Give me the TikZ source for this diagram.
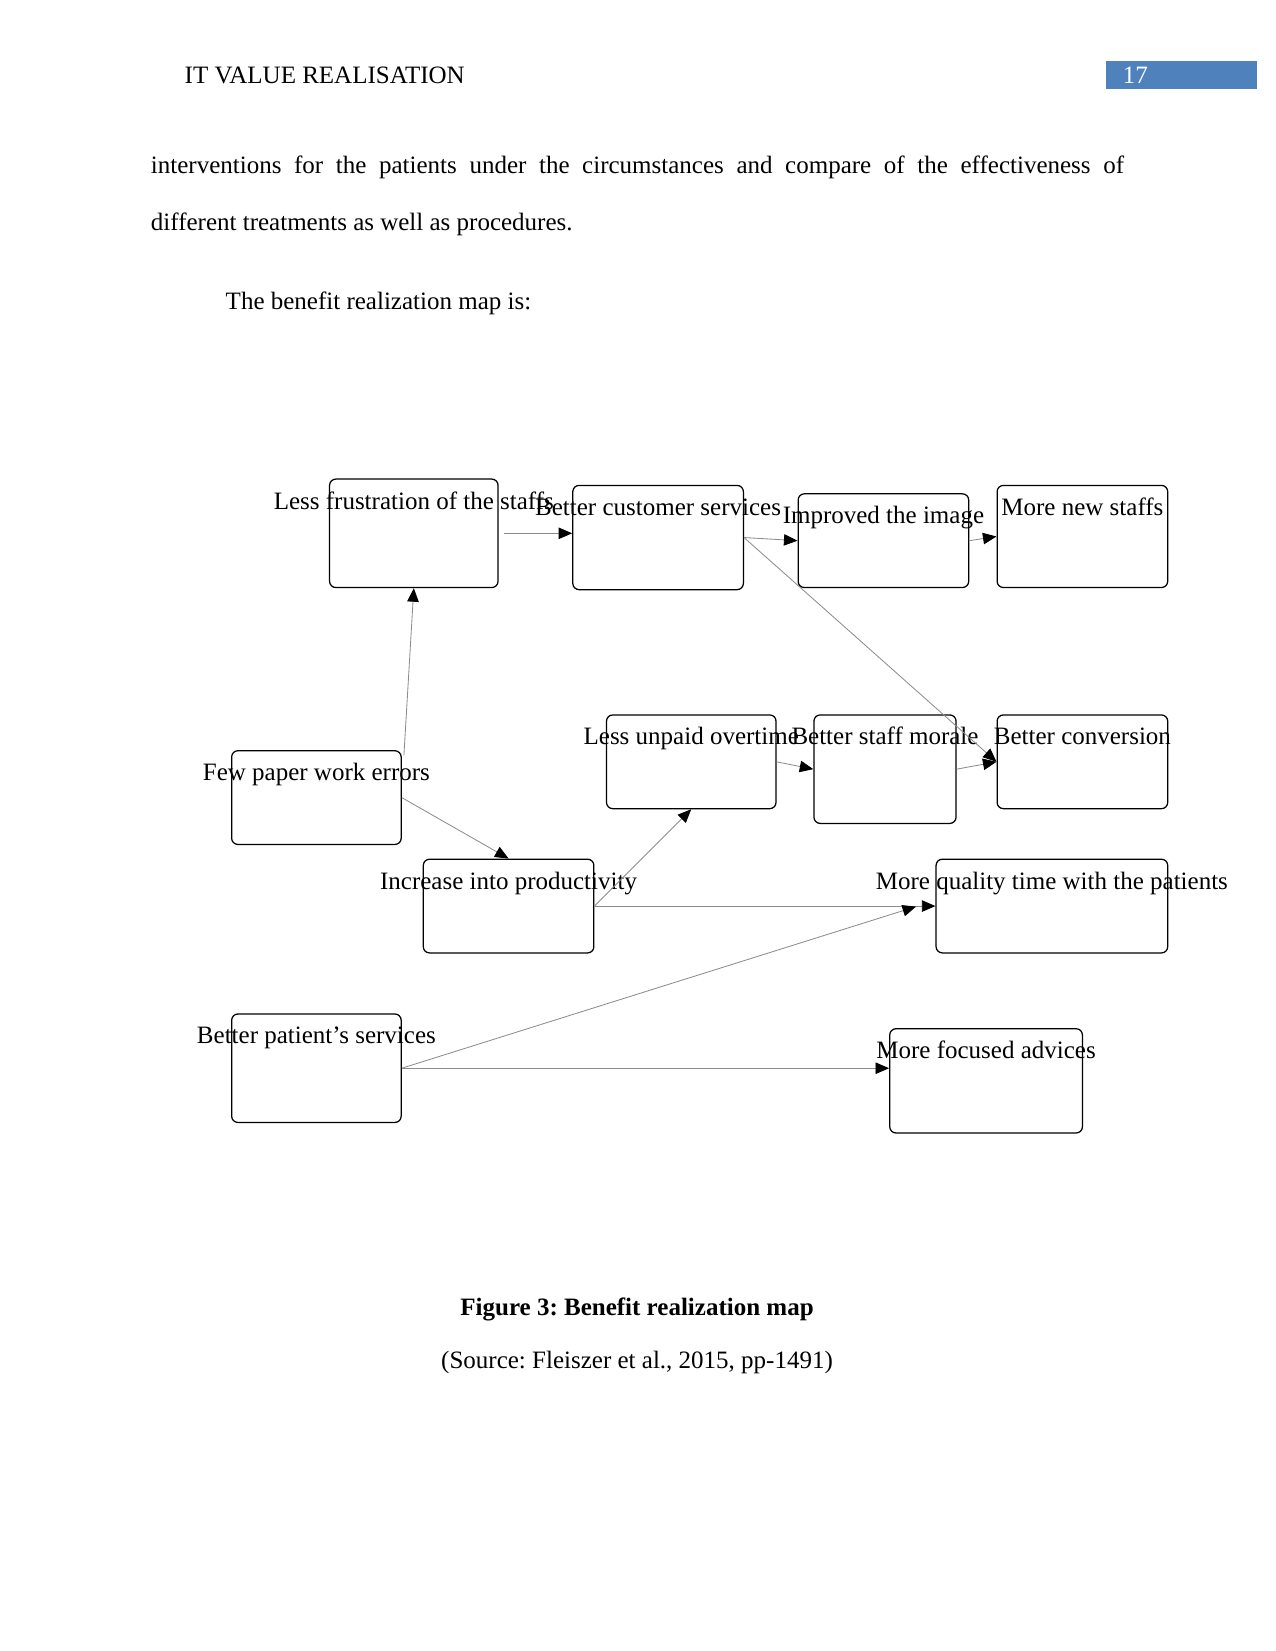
\documentclass[tikz,border=0pt]{standalone}
\usepackage{fontspec}
\setmainfont{Liberation Serif}
\usetikzlibrary{arrows.meta,calc}
\definecolor{hdrblue}{RGB}{79,129,189}
\frenchspacing
\begin{document}
\frenchspacing
\begin{tikzpicture}[x=0.50537pt,y=-0.50537pt,
  txt/.style={inner sep=0pt,font=\fontsize{12}{14}\selectfont},
  bx/.style 2 args={draw,line width=0.6pt,rounded corners=3pt,inner sep=0pt,
     minimum width=#1*0.50537pt,minimum height=#2*0.50537pt},
  lbl/.style={txt,anchor=base},
  conn/.style={draw=gray!90,line width=0.4pt,-{Triangle[length=6.5pt,width=5.5pt,fill=black,color=black]}}]
\useasboundingbox (0,0) rectangle (1211,1568);
% header
\node[txt,anchor=base west] (hdr) at (175,79) {IT VALUE REALISATION};
\node[fill=hdrblue,minimum width=143*0.50537pt,minimum height=26*0.50537pt,inner sep=0pt,anchor=north west] (pg) at (1050,58) {};
\node[txt,anchor=base west,text=white] (pgn) at (1066,79) {17};
% body text
\node[txt,anchor=base west] (b1) at (143,165) {\makebox[467pt][s]{interventions for the patients under the circumstances and compare of the effectiveness of}};
\node[txt,anchor=base west] (b2) at (143,219) {different treatments as well as procedures.};
\node[txt,anchor=base west] (b3) at (214,294) {The benefit realization map is:};
% boxes
\node[bx={160}{103}] (lf) at (393,506.5) {};
\node[bx={162}{99}] (cb) at (625,510.5) {};
\node[bx={162}{89}] (ii) at (839,513.5) {};
\node[bx={162}{97}] (mn) at (1028,509.5) {};
\node[bx={161}{89}] (fp) at (300.5,757.5) {};
\node[bx={161}{89}] (lu) at (656.5,723.5) {};
\node[bx={135}{103}] (sm) at (840.5,730.5) {};
\node[bx={162}{89}] (bc) at (1028,723.5) {};
\node[bx={162}{89}] (ip) at (483,860.5) {};
\node[bx={220}{89}] (mq) at (999,860.5) {};
\node[bx={161}{103}] (bp) at (300.5,1014.5) {};
\node[bx={183}{99}] (mf) at (936.5,1026.5) {};
% labels
\node[lbl] (lfT) at ($(lf.north)+(0,29)$) {Less frustration of the staffs};
\node[lbl] (cbT) at ($(cb.north)+(0,29)$) {Better customer services};
\node[lbl] (iiT) at ($(ii.north)+(0,29)$) {Improved the image};
\node[lbl] (mnT) at ($(mn.north)+(0,29)$) {More new staffs};
\node[lbl] (fpT) at ($(fp.north)+(0,29)$) {Few paper work errors};
\node[lbl] (luT) at ($(lu.north)+(0,29)$) {Less unpaid overtime};
\node[lbl] (smT) at ($(sm.north)+(0,29)$) {Better staff morale};
\node[lbl] (bcT) at ($(bc.north)+(0,29)$) {Better conversion};
\node[lbl] (ipT) at ($(ip.north)+(0,29)$) {Increase into productivity};
\node[lbl] (mqT) at ($(mq.north)+(0,29)$) {More quality time with the patients};
\node[lbl] (bpT) at ($(bp.north)+(0,29)$) {Better patient’s services};
\node[lbl] (mfT) at ($(mf.north)+(0,29)$) {More focused advices};
% connectors
\coordinate (mqin) at (870,861);
\draw[conn] ([xshift=5*0.50537pt]lf.east) -- (lf.east -| cb.west);
\draw[conn] (cb.east) -- (ii.west);
\draw[conn] (cb.east) -- (bc.west);
\draw[conn] (ii.east) -- (mn.west);
\draw[conn] ([xshift=2*0.50537pt,yshift=-5*0.50537pt]fp.north east) -- (lf.south);
\draw[conn] (fp.east) -- (ip.north);
\draw[conn] (ip.east) -- (lu.south);
\draw[conn] (ip.east) -- (mq.west);
\draw[conn] (lu.east) -- (sm.west);
\draw[conn] (sm.east) -- (bc.west);
\draw[conn] (bp.east) -- (mqin);
\draw[conn] (bp.east) -- (bp.east -| mf.west);
% caption
\node[txt,anchor=base,font=\fontsize{12}{14}\selectfont\bfseries] (cap) at (605,1249) {Figure 3: Benefit realization map};
\node[txt,anchor=base] (src) at (605,1300) {(Source: Fleiszer et al., 2015, pp-1491)};
\end{tikzpicture}
\end{document}
